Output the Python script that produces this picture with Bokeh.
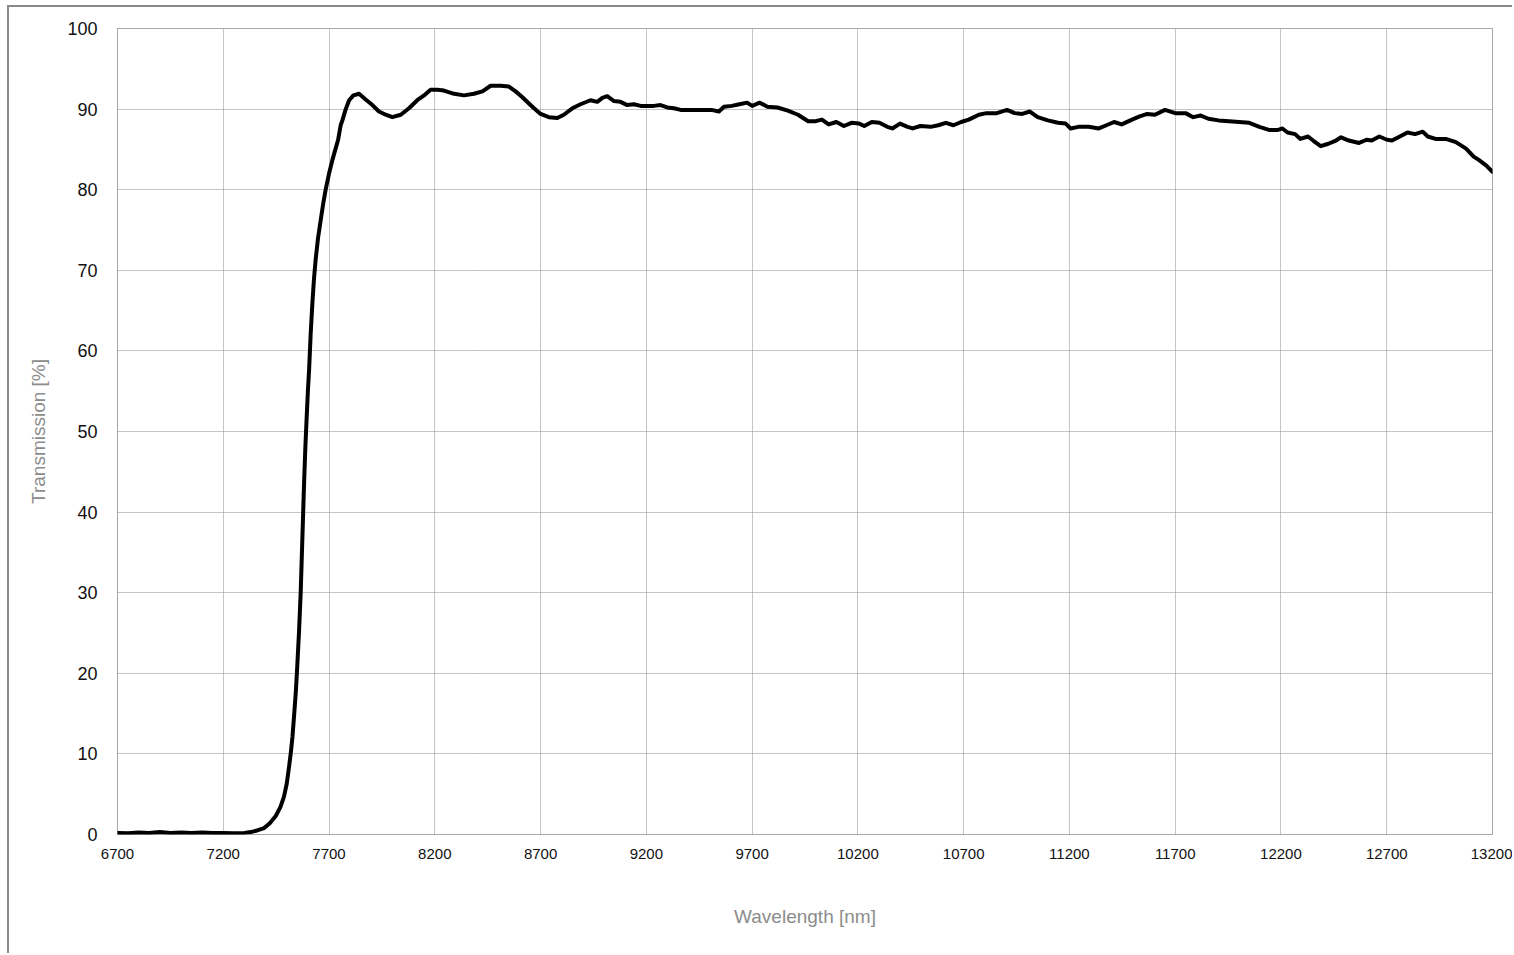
from bokeh.plotting import figure
from bokeh.models import FixedTicker, Range1d
from bokeh.embed import file_html
from bokeh.resources import INLINE

# ---- data ----
wavelength_nm = [
    6700, 6750, 6800, 6850, 6900, 6950, 7000, 7050, 7100, 7150, 7200, 7250, 7300, 7330,
    7360, 7393, 7420, 7448, 7470, 7487, 7500, 7511, 7520, 7527, 7535, 7543, 7550, 7558,
    7566, 7574, 7582, 7588, 7594, 7600, 7606, 7613, 7621, 7629, 7637, 7648, 7661, 7672,
    7684, 7700, 7716, 7730, 7743, 7755, 7763, 7779, 7795, 7815, 7842, 7873, 7905, 7936,
    7968, 7999, 8039, 8078, 8117, 8149, 8180, 8212, 8243, 8291, 8338, 8385, 8425, 8464,
    8511, 8550, 8582, 8613, 8645, 8669, 8700, 8739, 8779, 8810, 8850, 8889, 8936, 8968,
    8992, 9015, 9047, 9078, 9110, 9141, 9173, 9204, 9236, 9267, 9299, 9330, 9362, 9393,
    9425, 9459, 9507, 9543, 9567, 9604, 9640, 9676, 9700, 9736, 9772, 9820, 9869, 9917,
    9965, 10001, 10030, 10062, 10098, 10134, 10170, 10206, 10230, 10266, 10302, 10339,
    10363, 10399, 10435, 10459, 10495, 10544, 10580, 10616, 10652, 10688, 10724, 10772,
    10808, 10857, 10905, 10941, 10977, 11013, 11050, 11098, 11146, 11182, 11206, 11242,
    11291, 11339, 11375, 11411, 11447, 11496, 11532, 11568, 11604, 11652, 11700, 11749,
    11785, 11821, 11857, 11905, 11954, 12002, 12050, 12098, 12147, 12183, 12207, 12231,
    12267, 12291, 12328, 12352, 12388, 12424, 12460, 12484, 12521, 12569, 12605, 12629,
    12665, 12701, 12725, 12762, 12798, 12834, 12870, 12894, 12931, 12979, 13027, 13075,
    13111, 13135, 13171, 13200,
]
transmission_pct = [
    0.2, 0.15, 0.25, 0.2, 0.3, 0.2, 0.25, 0.2, 0.25, 0.2, 0.2, 0.15, 0.2, 0.3,
    0.5, 0.8, 1.4, 2.3, 3.4, 4.7, 6.3, 8.4, 10.3, 12.1, 14.8, 17.7, 21.0, 25.1,
    30.0, 36.8, 43.6, 48.0, 51.6, 55.0, 57.8, 62.0, 65.8, 69.0, 71.4, 74.0, 76.3, 78.2,
    80.0, 82.0, 83.7, 85.0, 86.2, 88.0, 88.6, 90.0, 91.1, 91.7, 91.9, 91.2, 90.5, 89.7,
    89.3, 89.0, 89.3, 90.1, 91.1, 91.7, 92.4, 92.4, 92.3, 91.9, 91.7, 91.9, 92.2, 92.9,
    92.9, 92.8, 92.2, 91.5, 90.7, 90.1, 89.4, 89.0, 88.9, 89.3, 90.1, 90.6, 91.1, 90.9,
    91.4, 91.6, 91.0, 90.9, 90.5, 90.6, 90.4, 90.4, 90.4, 90.5, 90.2, 90.1, 89.9, 89.9,
    89.9, 89.9, 89.9, 89.7, 90.3, 90.4, 90.6, 90.8, 90.4, 90.8, 90.3, 90.2, 89.8, 89.3,
    88.5, 88.5, 88.7, 88.1, 88.4, 87.9, 88.3, 88.2, 87.9, 88.4, 88.3, 87.8,
    87.6, 88.2, 87.8, 87.6, 87.9, 87.8, 88.0, 88.3, 88.0, 88.4, 88.7, 89.3,
    89.5, 89.5, 89.9, 89.5, 89.4, 89.7, 89.0, 88.6, 88.3, 88.2, 87.6, 87.8,
    87.8, 87.6, 88.0, 88.4, 88.1, 88.7, 89.1, 89.4, 89.3, 89.9, 89.5, 89.5,
    89.0, 89.2, 88.8, 88.6, 88.5, 88.4, 88.3, 87.8, 87.4, 87.4, 87.6, 87.1,
    86.9, 86.3, 86.6, 86.1, 85.4, 85.7, 86.1, 86.5, 86.1, 85.8, 86.2, 86.1,
    86.6, 86.2, 86.1, 86.6, 87.1, 86.9, 87.2, 86.6, 86.3, 86.3, 85.9, 85.1,
    84.1, 83.7, 83.0, 82.2,
]
x_ticks = list(range(6700, 13201, 500))
y_ticks = list(range(0, 101, 10))
x_title = "Wavelength [nm]"
y_title = "Transmission [%]"

FONT = "Liberation Sans"

p = figure(
    width=1505, height=948,
    output_backend="svg", toolbar_location=None,
    x_range=Range1d(6700, 13200), y_range=Range1d(0, 100),
    min_border_left=108, min_border_top=21, min_border_right=22, min_border_bottom=121,
    styles={"margin-left": "7px", "margin-top": "5px",
            "border-left": "2px solid #8a8a8a", "border-top": "2px solid #8a8a8a"},
)

p.line(wavelength_nm, transmission_pct, line_color="black", line_width=4,
       line_join="round", line_cap="round")

p.outline_line_color = "#505050"
p.outline_line_dash = "1 1"
p.outline_line_width = 1

for ax in (p.xaxis[0], p.yaxis[0]):
    ax.axis_line_color = None
    ax.major_tick_line_color = None
    ax.minor_tick_line_color = None
    ax.major_label_text_font = FONT
    ax.major_label_text_color = "#111111"
    ax.axis_label_text_font = FONT
    ax.axis_label_text_font_size = "19px"
    ax.axis_label_text_font_style = "normal"
    ax.axis_label_text_color = "#8c8c8c"

p.xaxis.major_label_text_font_size = "15px"
p.yaxis.major_label_text_font_size = "18px"
p.xaxis.ticker = FixedTicker(ticks=x_ticks)
p.yaxis.ticker = FixedTicker(ticks=y_ticks)
p.xaxis.axis_label = x_title
p.yaxis.axis_label = y_title
p.xaxis.major_label_standoff = 8
p.yaxis.major_label_standoff = 14
p.xaxis.axis_label_standoff = 44
p.yaxis.axis_label_standoff = 15

p.xgrid.ticker = FixedTicker(ticks=x_ticks)
p.ygrid.ticker = FixedTicker(ticks=y_ticks)
for g in (p.xgrid[0], p.ygrid[0]):
    g.grid_line_color = "#8a8a8a"
    g.grid_line_dash = "1 1"
    g.grid_line_width = 1

open("out.html", "w").write(file_html(p, INLINE))
